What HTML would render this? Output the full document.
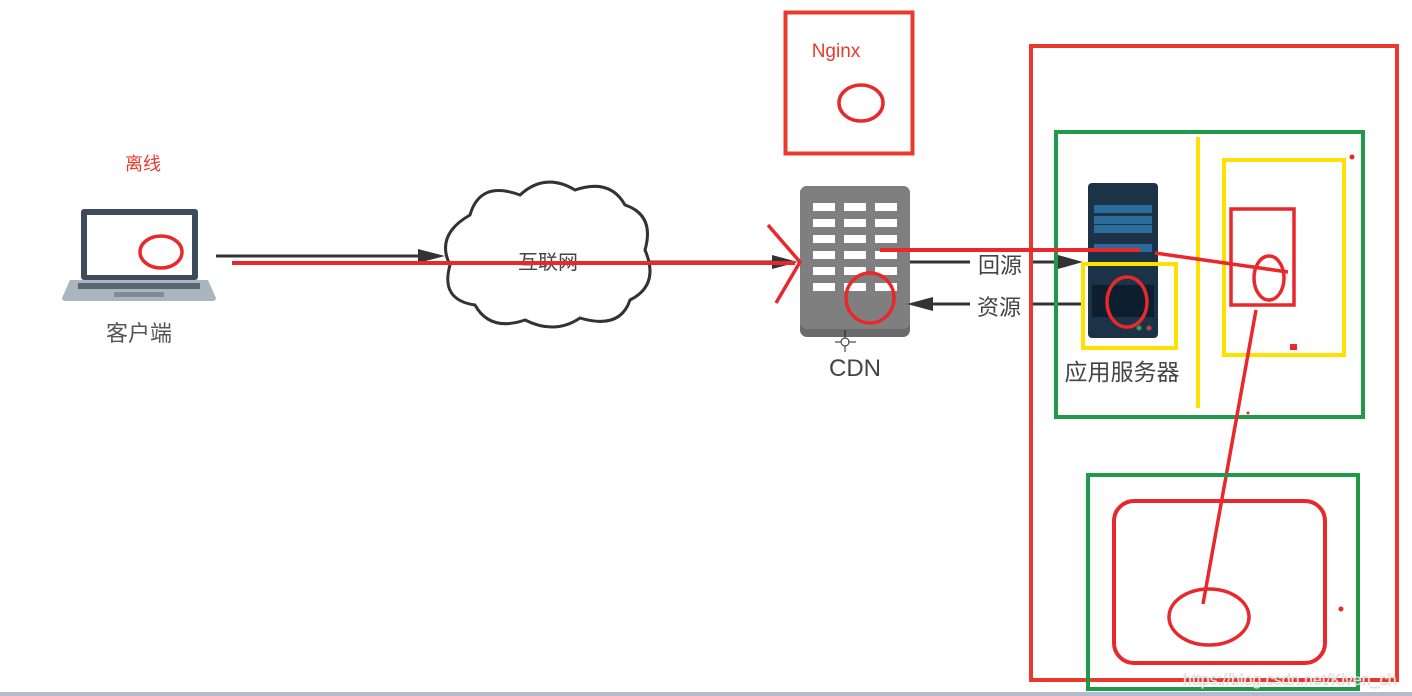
<!DOCTYPE html>
<html><head><meta charset="utf-8"><style>
html,body{margin:0;padding:0;background:#fff;width:1412px;height:696px;overflow:hidden}
svg{display:block}
text{font-family:"Liberation Sans","Noto Sans CJK SC",sans-serif}
</style></head><body>
<svg width="1412" height="696" viewBox="0 0 1412 696">
<rect x="0" y="692" width="1412" height="4" fill="#b4bccc"/>
<!-- laptop -->
<rect x="81" y="209" width="117" height="71" rx="3" fill="#3d4b5a"/>
<rect x="87" y="215" width="105" height="60" fill="#fff"/>
<path d="M70,280 L208,280 L216,298 Q216,301 212,301 L66,301 Q62,301 62,298 Z" fill="#a9b5bf"/>
<rect x="78" y="283" width="122" height="6" fill="#5a6773"/>
<rect x="114" y="292" width="50" height="5" fill="#7f8b96"/>
<text x="143" y="170" font-size="18" fill="#e8392c" text-anchor="middle">离线</text>
<text x="139" y="341" font-size="22" fill="#555" text-anchor="middle">客户端</text>
<ellipse cx="161" cy="252" rx="21" ry="16" fill="none" stroke="#e8282b" stroke-width="3.5"/>
<line x1="216" y1="256" x2="430" y2="256" stroke="#333" stroke-width="3"/>
<path d="M445,256 L418,249 L418,263 Z" fill="#333"/>
<!-- cloud -->
<path d="M470,215 Q480,180 520,195 Q545,172 575,190 Q610,178 625,205 Q655,215 645,250 Q660,285 630,300 Q620,330 580,318 Q555,335 525,320 Q490,332 475,305 Q440,300 450,265 Q435,235 470,215 Z" fill="#fff" stroke="#333" stroke-width="3"/>
<text x="548" y="269" font-size="20" fill="#444" text-anchor="middle">互联网</text>
<line x1="650" y1="262" x2="780" y2="262" stroke="#333" stroke-width="3"/>
<path d="M798,262 L772,255 L772,269 Z" fill="#333"/>
<line x1="232" y1="263" x2="795" y2="263" stroke="#e8282b" stroke-width="4"/>
<!-- CDN -->
<rect x="800" y="186" width="110" height="151" rx="7" fill="#6a6a6a"/>
<rect x="800" y="186" width="110" height="143" rx="7" fill="#7f7f7f"/>
<g fill="#fff">
<rect x="813" y="203" width="22" height="8"/><rect x="844" y="203" width="22" height="8"/><rect x="875" y="203" width="22" height="8"/>
<rect x="813" y="219" width="22" height="8"/><rect x="844" y="219" width="22" height="8"/><rect x="875" y="219" width="22" height="8"/>
<rect x="813" y="235" width="22" height="8"/><rect x="844" y="235" width="22" height="8"/><rect x="875" y="235" width="22" height="8"/>
<rect x="813" y="251" width="22" height="8"/><rect x="844" y="251" width="22" height="8"/><rect x="875" y="251" width="22" height="8"/>
<rect x="813" y="267" width="22" height="8"/><rect x="844" y="267" width="22" height="8"/><rect x="875" y="267" width="22" height="8"/>
<rect x="813" y="283" width="22" height="8"/><rect x="844" y="283" width="22" height="8"/><rect x="875" y="283" width="22" height="8"/>
</g>
<text x="855" y="376" font-size="24" fill="#444" text-anchor="middle">CDN</text>
<path d="M845,330 V352 M835,342 H856" stroke="#222" stroke-width="1"/>
<circle cx="845" cy="342" r="4" fill="#fff" stroke="#222"/>
<ellipse cx="870" cy="298" rx="24" ry="25" fill="none" stroke="#e8282b" stroke-width="3.5"/>
<path d="M768,225 L800,262 L776,303" fill="none" stroke="#e8282b" stroke-width="3.5"/>
<line x1="910" y1="262" x2="970" y2="262" stroke="#333" stroke-width="3"/>
<line x1="1030" y1="262" x2="1065" y2="262" stroke="#333" stroke-width="3"/>
<path d="M1083,262 L1058,255 L1058,269 Z" fill="#333"/>
<text x="1000" y="273" font-size="22" fill="#444" text-anchor="middle">回源</text>
<line x1="1030" y1="304" x2="1082" y2="304" stroke="#333" stroke-width="3"/>
<line x1="930" y1="304" x2="970" y2="304" stroke="#333" stroke-width="3"/>
<path d="M907,304 L933,297 L933,311 Z" fill="#333"/>
<text x="999" y="315" font-size="22" fill="#444" text-anchor="middle">资源</text>
<!-- server -->
<rect x="1088" y="183" width="70" height="155" rx="4" fill="#1c3347"/>
<rect x="1094" y="205" width="58" height="8" fill="#2a6d9c"/>
<rect x="1094" y="216" width="58" height="8" fill="#2a6d9c"/>
<rect x="1094" y="225" width="58" height="8" fill="#2a6d9c"/>
<rect x="1094" y="244" width="58" height="8" fill="#2a6d9c"/>
<rect x="1092" y="285" width="62" height="32" fill="#0d1f2e"/>
<circle cx="1139" cy="328" r="2.5" fill="#3a9a5a"/><circle cx="1149" cy="328" r="2.5" fill="#c04040"/>
<text x="1122" y="380" font-size="23" fill="#444" text-anchor="middle">应用服务器</text>
<!-- nginx -->
<rect x="785.5" y="12.5" width="127" height="141" fill="none" stroke="#e8392c" stroke-width="4"/>
<text x="836" y="57" font-size="19" fill="#e8392c" text-anchor="middle">Nginx</text>
<ellipse cx="861" cy="103" rx="22" ry="18" fill="none" stroke="#e8282b" stroke-width="3.5"/>
<!-- right area -->
<rect x="1031" y="46" width="366" height="634" fill="none" stroke="#e8392c" stroke-width="4"/>
<rect x="1056" y="132" width="307" height="285" fill="none" stroke="#1f9a48" stroke-width="4"/>
<line x1="1198" y1="137" x2="1198" y2="408" stroke="#ffe000" stroke-width="4"/>
<rect x="1224" y="160" width="120" height="195" fill="none" stroke="#ffe000" stroke-width="4"/>
<rect x="1231" y="209" width="63" height="96" fill="none" stroke="#e8282b" stroke-width="3.5"/>
<ellipse cx="1269" cy="278" rx="15" ry="22" fill="none" stroke="#e8282b" stroke-width="3.5"/>
<rect x="1083" y="264" width="93" height="84" fill="none" stroke="#ffe000" stroke-width="4"/>
<ellipse cx="1127" cy="302" rx="20" ry="25" fill="none" stroke="#e8282b" stroke-width="3.5"/>
<line x1="880" y1="250" x2="1140" y2="250" stroke="#e8282b" stroke-width="4"/>
<line x1="1155" y1="253" x2="1288" y2="272" stroke="#e8282b" stroke-width="3.5"/>
<line x1="1256" y1="310" x2="1203" y2="604" stroke="#e8282b" stroke-width="3.5"/>
<rect x="1088" y="475" width="270" height="214" fill="none" stroke="#1f9a48" stroke-width="4"/>
<rect x="1114" y="501" width="211" height="162" rx="20" fill="none" stroke="#e8282b" stroke-width="4"/>
<ellipse cx="1209" cy="617" rx="40" ry="28" fill="none" stroke="#e8282b" stroke-width="3.5"/>
<circle cx="1352" cy="157" r="2.5" fill="#e8282b"/>
<rect x="1290" y="344" width="7" height="6" fill="#e8282b"/>
<circle cx="1341" cy="609" r="2.5" fill="#e8282b"/>
<circle cx="1248" cy="413" r="1.5" fill="#e8282b"/>
<text x="1183" y="685" font-size="16" fill="#fff" stroke="#ccc" stroke-width="0.6" opacity="0.9">https://blog.csdn.net/Kiven_ch</text>
</svg>
</body></html>
